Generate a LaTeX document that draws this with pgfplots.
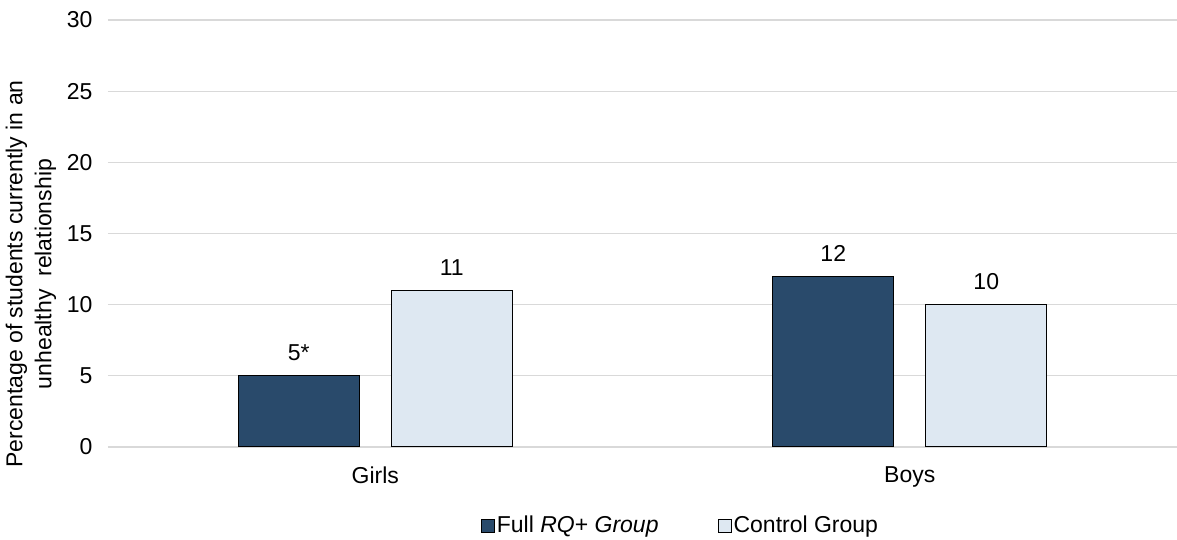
\documentclass[border=0pt]{standalone}
\usepackage{fontspec}
\setmainfont{Liberation Sans}
\usepackage{pgfplots}
\pgfplotsset{compat=1.18}

\definecolor{darkblue}{HTML}{294A6B}
\definecolor{lightblue}{HTML}{DEE8F2}
\definecolor{gridgray}{HTML}{D9D9D9}
\newcommand\chartfont{\fontsize{23}{26}\selectfont}

\begin{document}
\begin{tikzpicture}
\begin{axis}[
  ybar,
  scale only axis,
  width=1069pt, height=427pt,
  ymin=0, ymax=30,
  ytick={0,5,...,30},
  xmin=-0.5, xmax=1.5,
  xtick={0,1},
  xticklabels={Girls,Boys},
  axis x line=bottom, axis y line=left,
  x axis line style={gridgray, line width=1.5pt, -},
  y axis line style={draw=none},
  ymajorgrids,
  grid style={gridgray, line width=1.2pt},
  major tick length=0pt,
  /pgf/number format/assume math mode=true,
  tick label style={font=\chartfont},
  yticklabel style={xshift=-12pt},
  xticklabel style={yshift=-16pt},
  ylabel={Percentage of students currently in an\\unhealthy\ \ relationship},
  ylabel style={font=\fontsize{23}{29}\selectfont, align=center, at={(axis description cs:-0.072,0.405)}, anchor=center, rotate=0},
  bar width=121pt,
  point meta=explicit symbolic,
  nodes near coords,
  nodes near coords style={font=\chartfont, yshift=11pt},
  legend columns=2,
  legend style={draw=none, font=\chartfont, at={(axis description cs:0.5355,-0.183)}, anchor=center,
    /tikz/every even column/.append style={column sep=57pt}},
]
\addplot[bar shift=-76.5pt, fill=darkblue, draw=black, line width=1.2pt,
  legend image code/.code={\draw[fill=darkblue, draw=black, line width=1pt] (-8pt,-7pt) rectangle (5pt,6pt);}]
  coordinates {(0,5)[5*] (1,12)[12]};
\addlegendentry{Full \textit{RQ}+ \textit{Group}}
\addplot[bar shift=76.5pt, fill=lightblue, draw=black, line width=1.2pt,
  legend image code/.code={\draw[fill=lightblue, draw=black, line width=1pt] (8pt,-7pt) rectangle (21pt,6pt);}]
  coordinates {(0,11)[11] (1,10)[10]};
\addlegendentry{Control Group}
\end{axis}
\pgfresetboundingbox
\path (current axis.south west) ++(-108pt,-93pt) rectangle ++(1177pt,540pt);
\end{tikzpicture}
\end{document}
